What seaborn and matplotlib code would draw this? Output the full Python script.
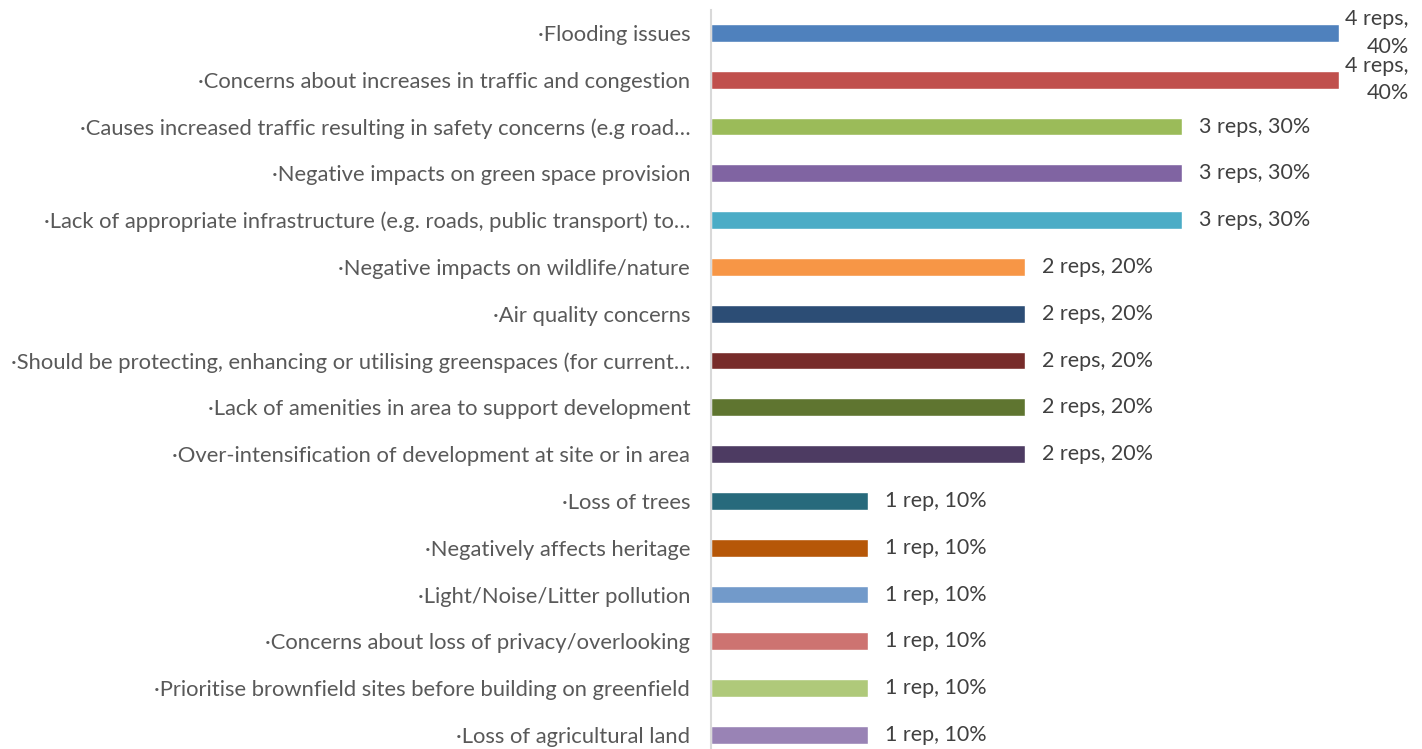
import matplotlib
matplotlib.use("Agg")
import matplotlib.pyplot as plt
import seaborn as sns
import pandas as pd

# Chart data
categories = [
    "·Flooding issues",
    "·Concerns about increases in traffic and congestion",
    "·Causes increased traffic resulting in safety concerns (e.g road…",
    "·Negative impacts on green space provision",
    "·Lack of appropriate infrastructure (e.g. roads, public transport) to…",
    "·Negative impacts on wildlife/nature",
    "·Air quality concerns",
    "·Should be protecting, enhancing or utilising greenspaces (for current…",
    "·Lack of amenities in area to support development",
    "·Over-intensification of development at site or in area",
    "·Loss of trees",
    "·Negatively affects heritage",
    "·Light/Noise/Litter pollution",
    "·Concerns about loss of privacy/overlooking",
    "·Prioritise brownfield sites before building on greenfield",
    "·Loss of agricultural land",
]
reps = [4, 4, 3, 3, 3, 2, 2, 2, 2, 2, 1, 1, 1, 1, 1, 1]
percent = [40, 40, 30, 30, 30, 20, 20, 20, 20, 20, 10, 10, 10, 10, 10, 10]
bar_colors = [
    "#4F81BD", "#C0504D", "#9BBB59", "#8064A2", "#4BACC6", "#F79646",
    "#2C4D75", "#772C2A", "#5F7530", "#4D3B62", "#276A7C", "#B65708",
    "#729ACA", "#CD7371", "#AFC97A", "#9983B5",
]

df = pd.DataFrame({"category": categories, "reps": reps, "pct": percent})

sns.set_theme(style="white")
plt.rcParams["font.family"] = ["Lato", "DejaVu Sans"]

fig = plt.figure(figsize=(14.22, 7.49), dpi=100)
ax = fig.add_axes([0.5, 0.0, 0.497, 739 / 749])

sns.barplot(data=df, x="reps", y="category", hue="category",
            palette=bar_colors, orient="h", width=0.38, legend=False,
            saturation=1, ax=ax)

ax.set_xlim(0, 4.5)
ax.set_ylim(15.3, -0.49)
ax.set_xlabel("")
ax.set_ylabel("")
ax.set_xticks([])
ax.tick_params(axis="y", length=0, pad=15, labelsize=15.8, labelcolor="#595959")

for side in ["top", "right", "bottom"]:
    ax.spines[side].set_visible(False)
ax.spines["left"].set_color("#d9d9d9")
ax.spines["left"].set_linewidth(1.5)

# value labels
for i, (r, p) in enumerate(zip(reps, percent)):
    unit = "rep" if r == 1 else "reps"
    if r == max(reps):
        txt = f"{r} {unit},\n{p}%"
        ax.text(r + 0.04, i, txt, ha="left", va="center", ma="right",
                fontsize=15.5, color="#404040", linespacing=1.45)
    else:
        txt = f"{r} {unit}, {p}%"
        ax.text(r + 0.105, i, txt, ha="left", va="center",
                fontsize=15.5, color="#404040")

fig.savefig("out.png", dpi=100)
